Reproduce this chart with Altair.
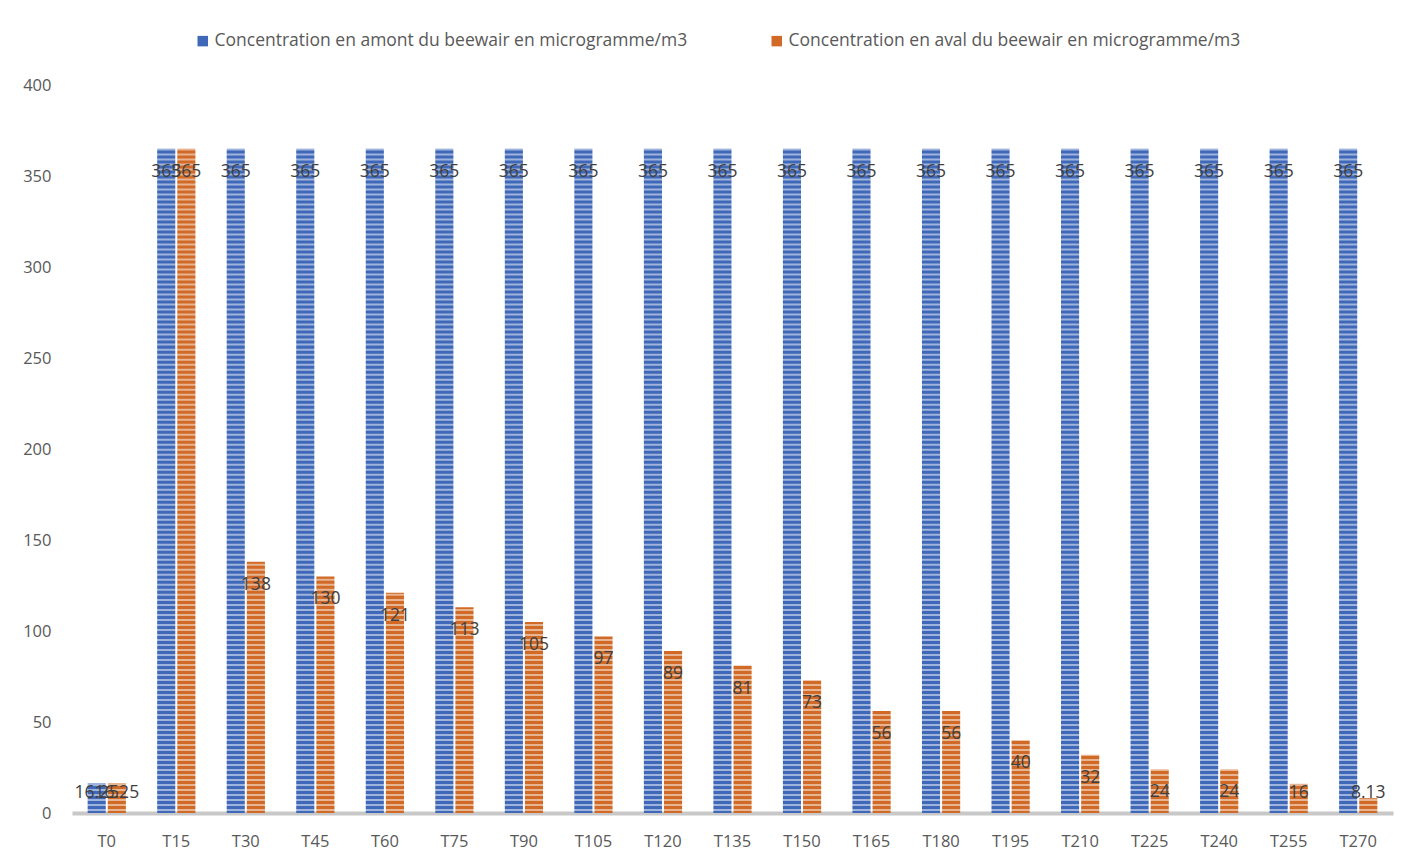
import altair as alt
import pandas as pd

categories = ["T0", "T15", "T30", "T45", "T60", "T75", "T90", "T105", "T120", "T135",
              "T150", "T165", "T180", "T195", "T210", "T225", "T240", "T255", "T270"]
series = ["Concentration en amont du beewair en microgramme/m3",
          "Concentration en aval du beewair en microgramme/m3"]
amont = [16.25, 365, 365, 365, 365, 365, 365, 365, 365, 365,
         365, 365, 365, 365, 365, 365, 365, 365, 365]
aval = [16.25, 365, 138, 130, 121, 113, 105, 97, 89, 81,
        73, 56, 56, 40, 32, 24, 24, 16, 8.13]
colors = ["#3F69B8", "#D06A26"]

rows = []
for c, a, b in zip(categories, amont, aval):
    rows.append({"cat": c, "serie": series[0], "value": a})
    rows.append({"cat": c, "serie": series[1], "value": b})
df = pd.DataFrame(rows)

FONT = "Open Sans"
yscale = alt.Scale(domain=[0, 400], nice=False)
xenc = alt.X("cat:N", sort=categories, title=None,
             scale=alt.Scale(paddingInner=0.45, paddingOuter=0.225),
             axis=alt.Axis(labelAngle=0, labelFontSize=16.5, labelColor="#595959",
                           labelFont=FONT, ticks=False, domainColor="#C8C8C8",
                           domainWidth=4, labelPadding=20))
xoff = alt.XOffset("serie:N", sort=series, scale=alt.Scale(paddingInner=0.1))

bars = alt.Chart(df).mark_bar().encode(
    x=xenc,
    xOffset=xoff,
    y=alt.Y("value:Q", scale=yscale, title=None,
            axis=alt.Axis(values=list(range(0, 401, 50)), labelFontSize=16.5,
                          labelColor="#595959", labelFont=FONT, tickSize=0,
                          domain=False, grid=False, labelPadding=21)),
    color=alt.Color("serie:N", sort=series,
                    scale=alt.Scale(domain=series, range=colors),
                    legend=alt.Legend(title=None, orient="none", direction="horizontal",
                                      legendX=122, legendY=-53, symbolType="square",
                                      symbolSize=110, symbolStrokeWidth=0,
                                      labelFontSize=17.5, labelColor="#595959",
                                      labelFont=FONT, columnPadding=80, labelOffset=3,
                                      labelLimit=700, symbolOpacity=1)),
)

stripes = alt.Chart(alt.sequence(1.6, 400, 2.75, as_="s")).mark_rule(
    color="white", opacity=0.5, strokeWidth=2
).encode(y=alt.Y("s:Q", scale=yscale))

labels = alt.Chart(df).transform_calculate(
    ly="max(datum.value - 12.6, 11)"
).mark_text(fontSize=17.5, color="#404040", font=FONT, baseline="middle").encode(
    x=alt.X("cat:N", sort=categories),
    xOffset=xoff,
    y=alt.Y("ly:Q", scale=yscale),
    text=alt.Text("value:Q", format="~r"),
)

chart = alt.layer(bars, stripes, labels).properties(
    width=1321, height=728,
    autosize=alt.AutoSizeParams(type="none"),
    padding={"left": 64, "top": 77, "right": 12, "bottom": 43},
).configure(font=FONT).configure_view(stroke=None, strokeWidth=0)

chart.save("out.html", embed_options={"renderer": "svg", "actions": False})
